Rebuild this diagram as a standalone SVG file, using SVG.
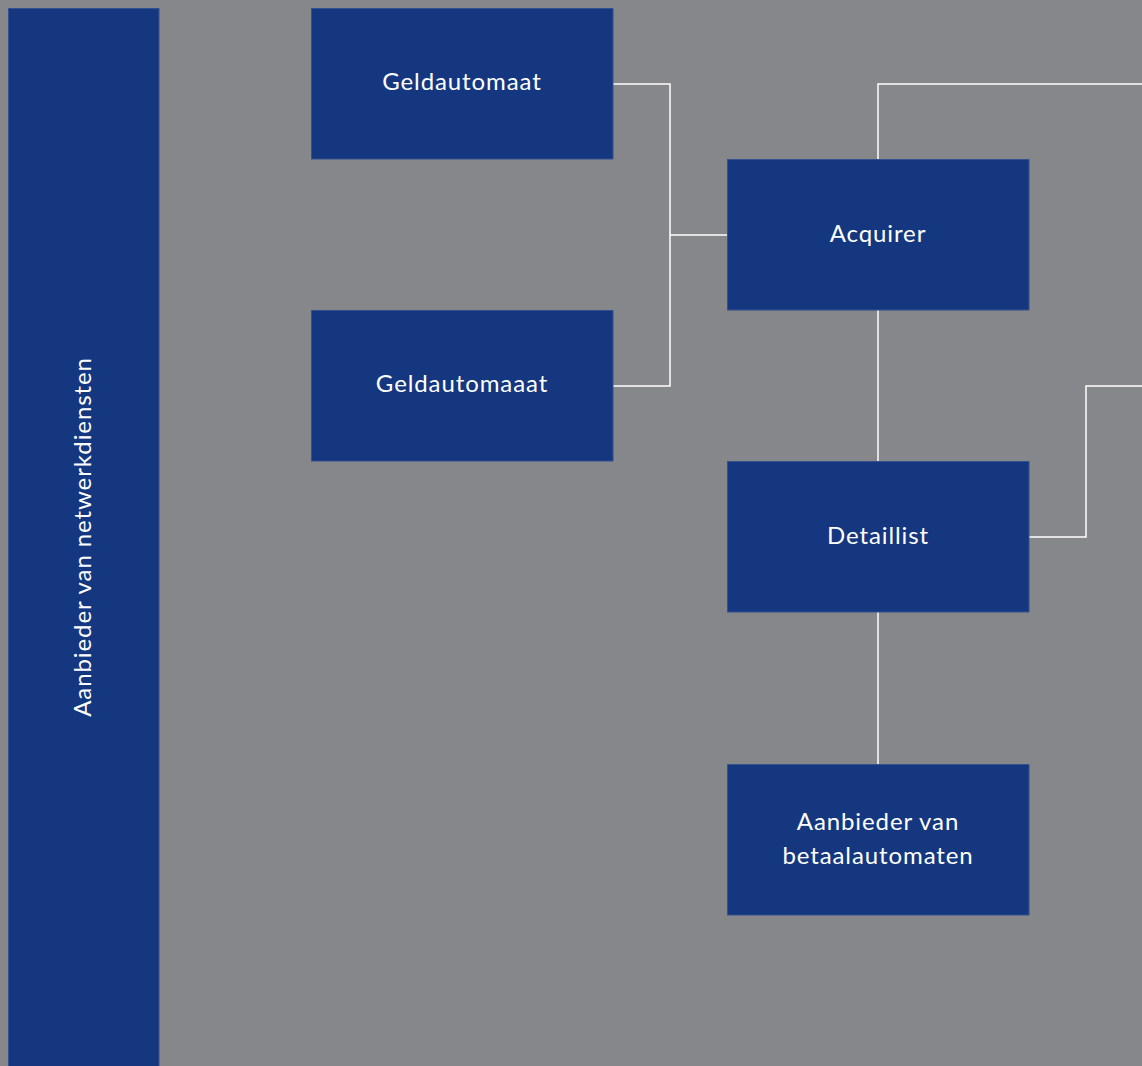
<svg xmlns="http://www.w3.org/2000/svg" width="1142" height="1066" viewBox="0 0 1142 1066">
<style>
.box{fill:#14377f;stroke:#34508f;stroke-width:1}
.lbl{font-family:Lato,"Open Sans",sans-serif;font-size:24px;fill:#ffffff;text-anchor:middle;letter-spacing:0.9px}
.con{fill:none;stroke:#ffffff;stroke-width:1.5}
</style>
<rect width="1142" height="1066" fill="#86878b"/>
<g id="connectors">
<polyline class="con" points="613,84 670,84 670,386 613,386"/>
<line class="con" x1="670" y1="235" x2="727" y2="235"/>
<polyline class="con" points="878,159 878,84 1142,84"/>
<line class="con" x1="878" y1="310" x2="878" y2="461"/>
<polyline class="con" points="1029,537 1086,537 1086,386 1142,386"/>
<line class="con" x1="878" y1="612" x2="878" y2="764"/>
</g>
<g id="netwerk">
<rect class="box" x="8.5" y="8.5" width="150.5" height="1070"/>
<text class="lbl" transform="translate(91,537) rotate(-90)">Aanbieder van netwerkdiensten</text>
</g>
<g id="geld1">
<rect class="box" x="311.5" y="8.5" width="301.5" height="150.5"/>
<text class="lbl" x="462" y="90">Geldautomaat</text>
</g>
<g id="geld2">
<rect class="box" x="311.5" y="310.5" width="301.5" height="150.5"/>
<text class="lbl" x="462" y="392">Geldautomaaat</text>
</g>
<g id="acquirer">
<rect class="box" x="727.5" y="159.5" width="301.5" height="150.5"/>
<text class="lbl" x="878" y="242">Acquirer</text>
</g>
<g id="detaillist">
<rect class="box" x="727.5" y="461.5" width="301.5" height="150.5"/>
<text class="lbl" x="878" y="544">Detaillist</text>
</g>
<g id="betaal">
<rect class="box" x="727.5" y="764.5" width="301.5" height="150.5"/>
<text class="lbl" x="878" y="830">Aanbieder van</text>
<text class="lbl" x="878" y="864">betaalautomaten</text>
</g>
</svg>
